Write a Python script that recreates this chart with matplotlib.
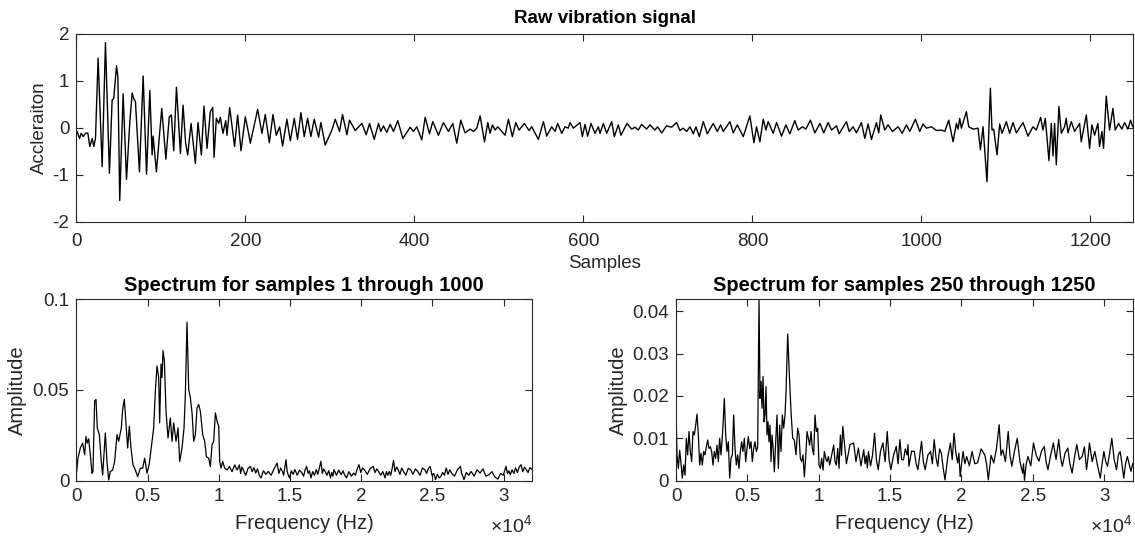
import matplotlib
matplotlib.use("Agg")
import matplotlib.pyplot as plt

plt.rcParams['font.family'] = ['Liberation Sans', 'DejaVu Sans']
plt.rcParams['mathtext.fontset'] = 'custom'
plt.rcParams['mathtext.rm'] = 'Liberation Sans'
plt.rcParams['mathtext.default'] = 'regular'
plt.rcParams['axes.unicode_minus'] = False

# ---------------- data ----------------
raw_samples = [
    0, 1.8, 3.8, 5.8, 8.1, 10.9, 13.6, 16.0, 18.8, 20.7, 22.7, 25.8, 30.6, 34.5, 39.2,
    42.4, 44.3, 47.6, 49.2, 51.4, 55.4, 59.4, 63.2, 66.1, 68.0, 70.0, 74.7, 79.1, 83.1,
    87.0, 89.7, 90.9, 94.8, 101.1, 106.0, 110.0, 112.5, 115.3, 118.5, 120.4, 123.2,
    126.3, 129.4, 131.8, 135.8, 140.9, 144.0, 148.0, 151.1, 154.7, 158.6, 161.4, 163.0,
    165.7, 168.5, 170.4, 173.6, 176.8, 178.3, 181.5, 187.3, 190.9, 194.9, 200.0, 203.9,
    205.9, 214.6, 219.7, 223.6, 228.4, 232.7, 236.6, 240.6, 244.1, 249.2, 253.2, 257.9,
    261.8, 265.8, 269.7, 273.7, 277.6, 281.5, 286.7, 289.4, 294.5, 302.4, 306.4, 311.5,
    315.0, 320.2, 323.3, 330.0, 337.9, 343.0, 347.0, 352.5, 357.6, 360.3, 363.5, 367.4,
    371.4, 375.3, 380.4, 386.4, 395.0, 399.0, 402.9, 408.8, 412.8, 417.9, 421.8, 428.5,
    434.4, 440.3, 445.5, 450.2, 454.9, 460.0,
    466.0, 470.0, 473.9, 477.8, 483.0, 486.9, 489.6, 492.4, 495.6, 498.7, 507.4, 511.3,
    516.0, 520.0, 523.9, 530.2, 535.7, 538.9, 546.8, 552.7, 556.6, 562.5, 566.5, 569.6,
    574.4, 578.3, 582.2, 584.2, 588.2, 596.0, 598.8, 601.9, 605.1, 609.0, 613.8, 617.7,
    619.7, 623.6, 627.6, 633.5, 636.6, 641.3, 644.5, 651.6, 657.1, 661.0, 665.0, 668.9,
    674.8, 678.8, 684.7, 687.8, 692.6, 698.5, 704.4, 710.3, 714.2,
    718.2, 722.2, 726.1, 730.1, 733.2, 737.2, 741.9, 746.6, 753.7, 758.4, 762.4, 765.5,
    773.4, 777.3, 782.1, 789.2, 797.0, 801.8, 804.9, 808.9, 812.8, 816.0, 818.7, 824.6,
    828.6, 834.5, 839.6, 844.3, 850.2, 854.2, 859.3, 863.2, 868.7, 873.9, 879.8, 884.5,
    889.6, 893.6, 899.5, 902.6, 911.3, 914.5, 919.2, 923.1, 929.0, 933.0, 936.9, 940.9,
    946.8, 949.5, 951.9, 956.6, 960.5, 965.7,
    972.4, 977.2, 982.3, 986.2, 992.9, 998.0, 1002.0, 1005.9, 1011.8, 1017.8, 1023.7,
    1027.6, 1032.3, 1037.5, 1041.4, 1043.4, 1045.3, 1047.3, 1053.2, 1056.0, 1061.1,
    1067.0, 1069.8, 1072.9, 1077.6, 1081.6, 1083.5, 1085.5, 1089.5, 1092.6, 1095.4,
    1100.5, 1104.4, 1108.4, 1112.3, 1120.2, 1126.1, 1132.0, 1135.9, 1141.1, 1143.8,
    1146.6, 1150.9, 1153.7, 1155.7, 1157.6, 1159.6, 1162.7, 1165.5, 1169.4, 1171.4,
    1173.4, 1177.3, 1181.3, 1187.2, 1189.1, 1195.1, 1199.0, 1201.7, 1204.9, 1208.8,
    1210.8, 1213.6, 1215.5, 1218.7, 1222.6, 1226.6, 1229.3, 1233.3, 1237.2, 1240.4,
    1244.3, 1247.5, 1250.0,
]
raw_accel = [
    -0.05, -0.12, -0.23, -0.12, -0.19, -0.12, -0.11, -0.40, -0.23, -0.40, -0.23, 1.48, -0.83, 1.81, -0.97,
    0.59, 0.62, 1.32, 1.08, -1.55, 0.72, -1.10, 0.09, 0.74, 0.62, 0.55, -0.94, 1.10, -0.99,
    0.79, -0.58, -0.18, -0.94, 0.41, -0.67, 0.23, 0.27, -0.49, 0.86, 0.31, -0.55,
    0.48, -0.33, -0.58, 0.09, -0.76, 0.11, -0.58, 0.46, -0.44, 0.34, 0.43, -0.63,
    0.20, 0.09, 0.22, -0.12, 0.15, -0.16, 0.43, -0.40, 0.27, -0.49, 0.23, -0.12,
    -0.33, 0.39, -0.12, 0.28, -0.32, 0.28, -0.16, 0.02, -0.39, 0.18, -0.28, 0.20,
    -0.25, 0.32, -0.19, 0.20, -0.19, 0.18, -0.20, 0.11, -0.37, -0.05, 0.18, -0.08,
    0.28, -0.15, 0.16, -0.06, 0.09, -0.15, 0.09, -0.25, 0.09, -0.08, 0.04, -0.10,
    0.07, -0.08, 0.15, -0.23, 0.01, -0.08, 0.02, -0.26, 0.22, -0.13, 0.13, -0.16,
    0.11, -0.08, 0.09, -0.33, 0.16, -0.11,
    -0.03, -0.08, -0.01, 0.25, -0.30, 0.11, -0.12, 0.06, -0.05, 0.02, -0.16, 0.18,
    -0.19, 0.11, -0.05, 0.09, -0.06, 0.02, -0.25, 0.13, -0.18, 0.02, -0.08, 0.09,
    -0.12, 0.02, -0.01, 0.11, -0.01, 0.11, -0.19, 0.07, -0.18, 0.09, -0.12, 0.02,
    -0.12, 0.09, -0.12, 0.13, -0.19, 0.06, -0.16, 0.09, -0.03, 0.01, -0.05, 0.07,
    -0.03, 0.06, -0.05, 0.02, -0.11, 0.04, 0.01, 0.11, -0.06,
    -0.01, -0.08, 0.02, -0.13, 0.02, -0.19, 0.13, -0.13, 0.09, -0.08, 0.06, -0.08,
    0.13, -0.11, 0.06, -0.19, 0.25, -0.32, 0.02, -0.30, 0.18, -0.05, 0.13, -0.12,
    0.11, -0.18, 0.06, -0.13, 0.15, -0.05, 0.02, -0.03, 0.16, -0.11, 0.09, -0.11,
    0.11, -0.05, 0.04, -0.13, 0.13, -0.08, 0.02, -0.11, 0.11, -0.23, 0.08, -0.25,
    0.11, -0.11, 0.27, -0.05, 0.06, -0.08,
    0.02, -0.12, 0.06, -0.08, 0.18, -0.08, 0.08, -0.01, 0.02, -0.06, -0.05,
    -0.08, 0.16, -0.30, 0.09, -0.03, 0.20, -0.01, 0.34, 0.02, -0.03,
    -0.01, -0.47, 0.02, -1.15, 0.84, -0.05, -0.03, -0.58, 0.08, -0.12,
    0.13, -0.12, 0.11, -0.11, 0.11, -0.18, 0.02, -0.05, 0.22, -0.05,
    0.20, -0.70, 0.09, -0.60, 0.09, -0.79, 0.45, -0.12, 0.02, 0.20,
    -0.11, 0.13, -0.08, 0.09, -0.30, 0.27, -0.44, 0.06, -0.16, 0.09,
    -0.40, -0.08, -0.44, 0.67, -0.05, 0.41, -0.05, 0.09, -0.03, 0.11,
    -0.03, 0.16, 0.02,
]

# spectrum of samples 1..1000: low band (0-11.5 kHz) and noise floor
spec1_freq_low = [
    0, 117, 281, 445, 586, 679, 773, 867, 984, 1101,
    1171, 1288, 1382, 1475, 1616, 1757, 1850, 2038, 2155, 2272,
    2389, 2553, 2693, 2857, 2974, 3162, 3255, 3372, 3490, 3607,
    3724, 3841, 3981, 4145, 4309, 4497, 4661, 4801, 4965, 5129,
    5316, 5433, 5551, 5668, 5785, 5855, 5949, 6019, 6089, 6183,
    6300, 6441, 6605, 6722, 6839, 7003, 7143, 7260, 7424, 7565,
    7658, 7775, 7893, 8010, 8127, 8244, 8361, 8478, 8595, 8712,
    8876, 9017, 9134, 9298, 9415, 9532, 9649, 9766, 9883, 10000,
    10071, 10164, 10281, 10422, 10586, 10750, 10937, 11125, 11288, 11452,
]
spec1_amp_low = [
    0.0031, 0.0124, 0.0180, 0.0207, 0.0143, 0.0244, 0.0207, 0.0231, 0.0143, 0.0041,
    0.0050, 0.0439, 0.0448, 0.0291, 0.0254, 0.0106, 0.0031, 0.0263, 0.0106, 0.0004,
    0.0050, 0.0059, 0.0106, 0.0254, 0.0217, 0.0291, 0.0393, 0.0448, 0.0309, 0.0180,
    0.0300, 0.0180, 0.0087, 0.0059, 0.0022, 0.0069, 0.0069, 0.0124, 0.0041, 0.0096,
    0.0217, 0.0291, 0.0494, 0.0633, 0.0569, 0.0319, 0.0643, 0.0569, 0.0717, 0.0661,
    0.0383, 0.0235, 0.0346, 0.0217, 0.0319, 0.0217, 0.0291, 0.0106, 0.0180, 0.0291,
    0.0476, 0.0874, 0.0504, 0.0457, 0.0374, 0.0217, 0.0254, 0.0402, 0.0420, 0.0383,
    0.0254, 0.0217, 0.0133, 0.0124, 0.0078, 0.0198, 0.0217, 0.0374, 0.0328, 0.0300,
    0.0106, 0.0069, 0.0106, 0.0069, 0.0059, 0.0078, 0.0050, 0.0087, 0.0059, 0.0087,
]
spec1_freq_high = [
    11540, 11630, 11725, 11890, 12060, 12225, 12350, 12475, 12600, 12725,
    12850, 12975, 13140, 13310, 13475, 13680, 13890, 14100, 14225, 14350,
    14475, 14560, 14640, 14725, 14810, 14890, 14975, 15100, 15225, 15350,
    15515, 15680, 15850, 15960, 16070, 16175, 16275, 16375, 16475, 16600,
    16725, 16850, 16960, 17070, 17175, 17275, 17375, 17475, 17600, 17725,
    17850, 17935, 18015, 18100, 18270, 18430, 18600, 18725, 18850, 18975,
    19140, 19310, 19475, 19600, 19725, 19850, 19975, 20100, 20225, 20435,
    20640, 20850, 20975, 21100, 21225, 21375, 21525, 21675, 21775, 21875,
    21975, 22075, 22175, 22275, 22385, 22490, 22600, 22725, 22850, 22975,
    23140, 23310, 23475, 23640, 23810, 23975, 24140, 24310, 24475, 24600,
    24725, 24850, 24975, 25100, 25225, 25350, 25475, 25600, 25725, 25850,
    25975, 26100, 26225, 26350, 26560, 26765, 26975, 27060, 27140, 27225,
    27390, 27560, 27725, 27935, 28140, 28350, 28560, 28765, 28975, 29185,
    29390, 29600, 29790, 29985, 30175, 30275, 30375, 30475, 30600, 30725,
    30850, 30975, 31100, 31225, 31350, 31475, 31600, 31725, 31850, 31975,
]
spec1_amp_high = [
    0.0040, 0.0075, 0.0060, 0.0030, 0.0068, 0.0079, 0.0050, 0.0072, 0.0042, 0.0065,
    0.0030, 0.0015, 0.0055, 0.0035, 0.0051, 0.0030, 0.0066, 0.0097, 0.0040, 0.0070,
    0.0051, 0.0030, 0.0070, 0.0116, 0.0050, 0.0030, 0.0015, 0.0055, 0.0035, 0.0061,
    0.0030, 0.0058, 0.0042, 0.0025, 0.0060, 0.0079, 0.0040, 0.0055, 0.0015, 0.0050,
    0.0030, 0.0061, 0.0035, 0.0070, 0.0107, 0.0040, 0.0065, 0.0051, 0.0030, 0.0055,
    0.0015, 0.0045, 0.0025, 0.0061, 0.0030, 0.0058, 0.0033, 0.0055, 0.0030, 0.0015,
    0.0050, 0.0025, 0.0042, 0.0030, 0.0065, 0.0088, 0.0045, 0.0070, 0.0061, 0.0035,
    0.0068, 0.0079, 0.0045, 0.0065, 0.0051, 0.0030, 0.0050, 0.0015, 0.0050, 0.0030,
    0.0051, 0.0030, 0.0065, 0.0112, 0.0050, 0.0075, 0.0061, 0.0035, 0.0070, 0.0051,
    0.0030, 0.0068, 0.0061, 0.0035, 0.0065, 0.0051, 0.0030, 0.0070, 0.0061, 0.0040,
    0.0068, 0.0079, 0.0030, 0.0040, 0.0006, 0.0035, 0.0015, 0.0024, 0.0045, 0.0030,
    0.0070, 0.0035, 0.0060, 0.0042, 0.0025, 0.0060, 0.0079, 0.0040, 0.0025, 0.0006,
    0.0045, 0.0030, 0.0051, 0.0025, 0.0060, 0.0042, 0.0065, 0.0025, 0.0033, 0.0050,
    0.0020, 0.0009, 0.0040, 0.0030, 0.0079, 0.0040, 0.0055, 0.0033, 0.0060, 0.0040,
    0.0070, 0.0045, 0.0075, 0.0088, 0.0050, 0.0075, 0.0061, 0.0045, 0.0072, 0.0064,
]

# spectrum of samples 250..1250
spec2_freq_low = [
    0, 70, 164, 257, 350, 444, 537, 631, 724, 818,
    911, 1004, 1098, 1191, 1285, 1378, 1472, 1565, 1659, 1752,
    1845, 1939, 2032, 2126, 2219, 2313, 2406, 2500, 2593, 2686,
    2780, 2873, 2967, 3060, 3154, 3270, 3387, 3481, 3574, 3668,
    3761, 3854, 3948, 4041, 4135, 4228, 4322, 4415, 4508, 4602,
    4695, 4789, 4882, 4976, 5069, 5163, 5256, 5349, 5443, 5536,
    5630, 5723, 5817, 5887, 5957, 6027, 6097, 6167, 6237, 6307,
    6377, 6447, 6517, 6587, 6658, 6728, 6798, 6891, 6985, 7078,
    7172, 7265, 7358, 7452, 7545, 7639, 7709, 7826, 7942, 8059,
    8176, 8293, 8410, 8526, 8620, 8713, 8807, 8900, 8994, 9087,
    9180, 9274, 9367, 9461, 9554, 9648, 9741, 9834, 9928, 10021,
    10115, 10208, 10302, 10395, 10489, 10582, 10676, 10769, 10862, 10956,
    11049, 11143, 11236, 11330, 11423, 11517,
]
spec2_amp_low = [
    0.0171, 0.0061, 0.0029, 0.0072, 0.0041, 0.0006, 0.0037, 0.0013, 0.0100, 0.0061,
    0.0116, 0.0069, 0.0045, 0.0116, 0.0108, 0.0131, 0.0157, 0.0108, 0.0037, 0.0065,
    0.0037, 0.0069, 0.0061, 0.0080, 0.0096, 0.0076, 0.0080, 0.0069, 0.0037, 0.0069,
    0.0053, 0.0084, 0.0045, 0.0100, 0.0061, 0.0116, 0.0194, 0.0108, 0.0069, 0.0092,
    0.0006, 0.0053, 0.0061, 0.0155, 0.0076, 0.0037, 0.0061, 0.0029, 0.0069, 0.0092,
    0.0069, 0.0100, 0.0045, 0.0076, 0.0104, 0.0076, 0.0092, 0.0045, 0.0076, 0.0092,
    0.0069, 0.0080, 0.0427, 0.0194, 0.0234, 0.0171, 0.0246, 0.0139, 0.0155, 0.0222,
    0.0108, 0.0139, 0.0092, 0.0131, 0.0045, 0.0108, 0.0080, 0.0021, 0.0092, 0.0155,
    0.0029, 0.0131, 0.0069, 0.0155, 0.0124, 0.0155, 0.0210, 0.0346, 0.0250, 0.0163,
    0.0100, 0.0096, 0.0061, 0.0124, 0.0108, 0.0053, 0.0045, 0.0061, 0.0009, 0.0053,
    0.0116, 0.0100, 0.0084, 0.0116, 0.0076, 0.0061, 0.0155, 0.0116, 0.0124, 0.0037,
    0.0029, 0.0053, 0.0025, 0.0069, 0.0053, 0.0045, 0.0057, 0.0037, 0.0053, 0.0069,
    0.0084, 0.0045, 0.0037, 0.0076, 0.0029, 0.0108,
]
spec2_freq_high = [
    11600, 11689, 11940, 12190, 12448, 12610, 12777, 12960, 13156, 13245,
    13333, 13410, 13485, 13630, 13770, 13915, 14040, 14168, 14330, 14497,
    14650, 14801, 14930, 15054, 15245, 15433, 15560, 15686, 15810, 15939,
    16065, 16192, 16255, 16319, 16510, 16698, 16825, 16951, 17080, 17204,
    17330, 17457, 17645, 17837, 17965, 18090, 18215, 18343, 18470, 18596,
    18720, 18849, 19040, 19228, 19355, 19481, 19610, 19734, 19820, 19911,
    20010, 20114, 20240, 20367, 20555, 20746, 20935, 21126, 21380, 21632,
    21760, 21885, 22075, 22264, 22450, 22644, 22770, 22897, 23085, 23276,
    23400, 23529, 23720, 23909, 24100, 24288, 24350, 24415, 24540, 24668,
    24860, 25047, 25240, 25427, 25615, 25806, 25930, 26059, 26250, 26439,
    26630, 26818, 26945, 27071, 27260, 27451, 27600, 27754, 27920, 28083,
    28270, 28463, 28615, 28766, 28870, 28969, 29160, 29348, 29540, 29728,
    29855, 29981, 30110, 30234, 30385, 30537, 30700, 30866, 30990, 31119,
    31245, 31372, 31500, 31625, 31750, 31878, 32000,
]
spec2_amp_high = [
    0.0060, 0.0128, 0.0040, 0.0085, 0.0089, 0.0045, 0.0077, 0.0035, 0.0073, 0.0040,
    0.0059, 0.0030, 0.0069, 0.0035, 0.0060, 0.0112, 0.0050, 0.0026, 0.0070, 0.0089,
    0.0045, 0.0116, 0.0050, 0.0026, 0.0060, 0.0081, 0.0040, 0.0097, 0.0050, 0.0049,
    0.0075, 0.0061, 0.0085, 0.0034, 0.0070, 0.0069, 0.0040, 0.0026, 0.0060, 0.0093,
    0.0045, 0.0026, 0.0060, 0.0069, 0.0040, 0.0097, 0.0055, 0.0034, 0.0075, 0.0065,
    0.0030, 0.0002, 0.0055, 0.0089, 0.0050, 0.0112, 0.0065, 0.0042, 0.0065, 0.0010,
    0.0040, 0.0069, 0.0040, 0.0057, 0.0035, 0.0069, 0.0040, 0.0042, 0.0075, 0.0061,
    0.0040, 0.0002, 0.0060, 0.0042, 0.0075, 0.0132, 0.0060, 0.0073, 0.0045, 0.0116,
    0.0060, 0.0034, 0.0070, 0.0100, 0.0045, 0.0018, 0.0040, 0.0001, 0.0040, 0.0057,
    0.0035, 0.0089, 0.0060, 0.0046, 0.0070, 0.0081, 0.0045, 0.0026, 0.0060, 0.0089,
    0.0050, 0.0097, 0.0055, 0.0034, 0.0065, 0.0077, 0.0040, 0.0018, 0.0055, 0.0085,
    0.0050, 0.0057, 0.0080, 0.0026, 0.0055, 0.0089, 0.0045, 0.0069, 0.0035, 0.0006,
    0.0040, 0.0069, 0.0045, 0.0034, 0.0065, 0.0100, 0.0050, 0.0026, 0.0060, 0.0069,
    0.0040, 0.0006, 0.0040, 0.0057, 0.0040, 0.0022, 0.0040,
]

raw_xticks = [0, 200, 400, 600, 800, 1000, 1200]
raw_yticks = [-2, -1, 0, 1, 2]
freq_ticks = [0, 5000, 10000, 15000, 20000, 25000, 30000]
freq_ticklabels = ['0', '0.5', '1', '1.5', '2', '2.5', '3']
spec1_yticks = [0, 0.05, 0.1]
spec1_yticklabels = ['0', '0.05', '0.1']
spec2_yticks = [0, 0.01, 0.02, 0.03, 0.04]
spec2_yticklabels = ['0', '0.01', '0.02', '0.03', '0.04']

# ---------------- figure ----------------
W, H = 1135, 540
fig = plt.figure(figsize=(W / 100, H / 100), dpi=100)

def frac(l, t, r, b):
    return [l / W, 1 - b / H, (r - l) / W, (b - t) / H]

ax_col = '#262626'
TICK_FS = 13.5

def style(ax, xpad):
    for s in ax.spines.values():
        s.set_color(ax_col)
        s.set_linewidth(0.8)
    ax.tick_params(direction='in', top=True, right=True, length=5, width=0.8,
                   color=ax_col, labelcolor=ax_col, labelsize=TICK_FS)
    ax.tick_params(axis='x', pad=xpad)
    ax.tick_params(axis='y', pad=5)

ax1 = fig.add_axes(frac(76.3, 33.7, 1132.7, 221.7))
ax1.plot(raw_samples, raw_accel, color='black', lw=1.0)
ax1.set_xlim(0, 1250)
ax1.set_ylim(-2, 2)
ax1.set_xticks(raw_xticks)
ax1.set_yticks(raw_yticks)
ax1.set_xticklabels([str(v) for v in raw_xticks])
ax1.set_yticklabels([str(v) for v in raw_yticks])
style(ax1, 8)
ax1.set_title('Raw vibration signal', fontsize=13.5, fontweight='bold', pad=8)
ax1.set_xlabel('Samples', fontsize=13.5, color=ax_col)
ax1.set_ylabel('Accleraiton', fontsize=13.5, color=ax_col)
ax1.xaxis.set_label_coords(0.5, -0.177)
ax1.yaxis.set_label_coords(-0.027, 0.5)

def spec_axes(rect, f, a, yticks, yticklabels, ylim, title, ylab_x):
    ax = fig.add_axes(rect)
    ax.plot(f, a, color='black', lw=0.9)
    ax.set_xlim(0, 32000)
    ax.set_ylim(*ylim)
    ax.set_xticks(freq_ticks)
    ax.set_xticklabels(freq_ticklabels)
    ax.set_yticks(yticks)
    ax.set_yticklabels(yticklabels)
    style(ax, 5)
    ax.set_title(title, fontsize=14.5, fontweight='bold', pad=6)
    ax.set_xlabel('Frequency (Hz)', fontsize=14.5, color=ax_col)
    ax.set_ylabel('Amplitude', fontsize=14.5, color=ax_col)
    ax.xaxis.set_label_coords(0.5, -0.185)
    ax.yaxis.set_label_coords(ylab_x, 0.5)
    ax.text(1.0, -0.245, r'$\times 10^{4}$', transform=ax.transAxes, ha='right',
            va='center', fontsize=14, color=ax_col)
    return ax

spec_axes(frac(76.3, 299.3, 532.0, 480.7),
          spec1_freq_low + spec1_freq_high, spec1_amp_low + spec1_amp_high,
          spec1_yticks, spec1_yticklabels, (0, 0.1),
          'Spectrum for samples 1 through 1000', -0.108)
spec_axes(frac(676.0, 299.3, 1132.7, 480.7),
          spec2_freq_low + spec2_freq_high, spec2_amp_low + spec2_amp_high,
          spec2_yticks, spec2_yticklabels, (0, 0.0428),
          'Spectrum for samples 250 through 1250', -0.105)

fig.savefig('out.png', dpi=100)
